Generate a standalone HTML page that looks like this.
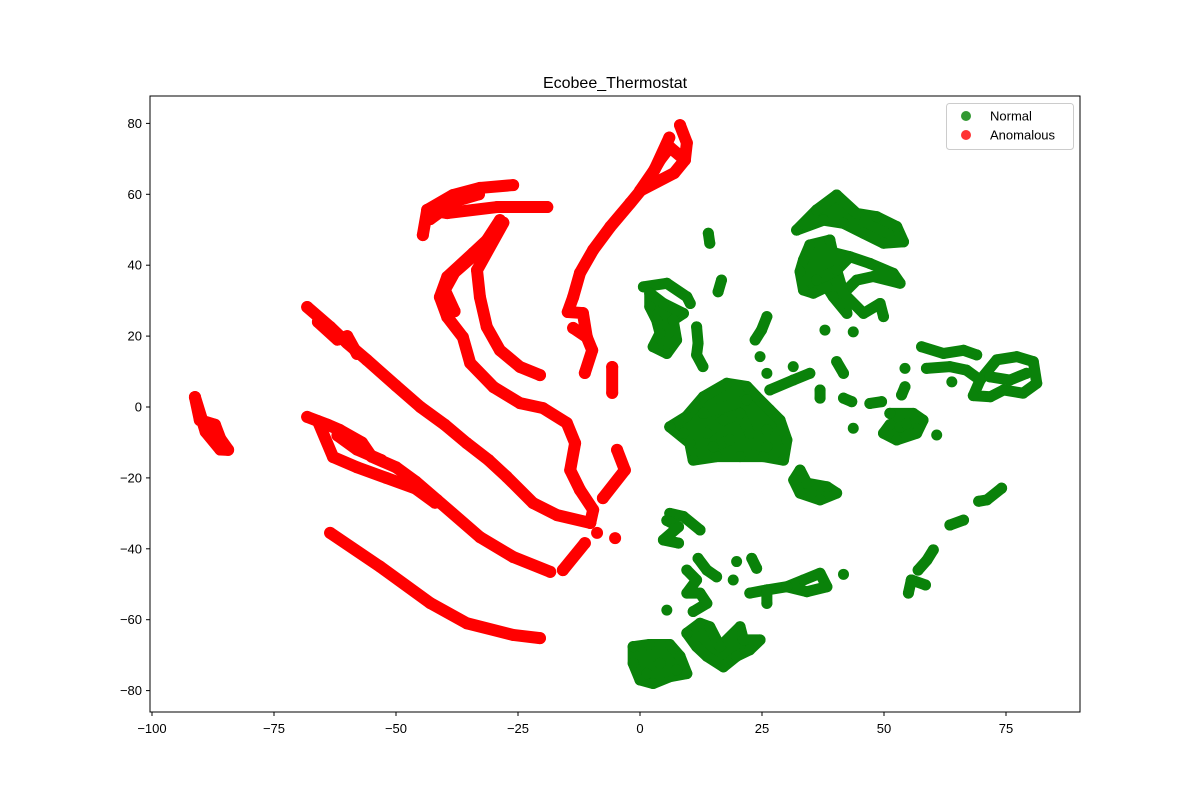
<!DOCTYPE html>
<html><head><meta charset="utf-8"><style>
body{margin:0;background:#fff;}
svg{display:block;font-family:"Liberation Sans","DejaVu Sans",sans-serif;}
</style></head><body>
<svg id="chart" width="1200" height="800" viewBox="0 0 1200 800">
<rect x="0" y="0" width="1200" height="800" fill="#fff"/>
<text x="615" y="88" text-anchor="middle" font-size="16">Ecobee_Thermostat</text>
<g id="marks"></g>
<rect x="150" y="96" width="930" height="616" fill="none" stroke="#000" stroke-width="1"/>
<g id="axes"></g>
<g>
<rect x="946.5" y="103.5" width="127" height="46" rx="3" fill="#fff" fill-opacity="0.8" stroke="#ccc"/>
<circle cx="966" cy="116" r="5" fill="green" fill-opacity="0.8"/>
<text x="990" y="120.5" font-size="13">Normal</text>
<circle cx="966" cy="135" r="5" fill="red" fill-opacity="0.8"/>
<text x="990" y="139.5" font-size="13">Anomalous</text>
</g>
</svg>
<script>
const xTicks = [-100,-75,-50,-25,0,25,50,75];
const yTicks = [-80,-60,-40,-20,0,20,40,60,80];
// Anomalous clusters (x, y pairs, ordered along each curve)
const anomalous = [
 [[-91.2,2.8],[-90.2,-3.7],[-87.1,-5],[-86,-9],[-84.4,-12.1],[-86,-12],[-89,-7],[-91.2,2.8]],
 [[-68.2,28.2],[-63.5,22.6],[-60,18],[-56,13.3],[-50,6],[-45,0],[-40,-5],[-35.5,-10.2],[-31,-15],[-27.3,-19.7],[-21.9,-27.1],[-17,-30.5],[-10.2,-32.7]],
 [[-66,24],[-62,19],[-60,20],[-58,15]],
 [[-44.5,48.5],[-43.6,55.6],[-38.3,59.8],[-32.8,61.8],[-26,62.6]],
 [[-43.6,55.6],[-39.5,54.7],[-29.3,56.4],[-19,56.4]],
 [[-43,53],[-38,58],[-33,60]],
 [[-28.7,52.7],[-31.4,47],[-34.2,43.4],[-39.5,36.7],[-41,31],[-39.5,25.4],[-36.3,19.7],[-34.8,12.4],[-30,5.6],[-24.6,1.1],[-19.9,-0.3],[-15,-4.5],[-13.3,-10.2],[-14.3,-17.8],[-12.3,-23.4],[-9.6,-29],[-10.2,-32.7]],
 [[-30,49],[-33,44],[-38,38],[-40,33],[-38,27]],
 [[-28,52],[-33.4,38.6],[-32.8,31],[-31.4,22.6],[-28.7,16],[-24.6,11.3],[-20.5,9]],
 [[8.2,79.5],[9.6,74.5],[9.2,69.7],[6.1,73.3],[4.1,69.7],[1.4,63.2],[-2,57.5],[-6.1,50.8],[-9.6,44.3],[-12.3,37.8],[-13.7,31],[-14.8,26.8],[-11.7,26.5],[-10.9,19.7],[-9.8,16],[-11.3,9.6]],
 [[6,76],[3,67],[0,61],[7,66],[9.2,69.7]],
 [[-13.7,22.3],[-10.9,19.7]],
 [[-5.7,11.3],[-5.7,4]],
 [[-68.2,-2.8],[-64,-5],[-61.5,-6.5],[-57,-10],[-55,-14],[-50,-17],[-46,-21],[-41.6,-26.2],[-32.8,-36.7],[-26,-42.3],[-18.4,-46.5]],
 [[-66,-4],[-62.9,-14.1],[-58,-17],[-52,-20],[-46,-23],[-42,-27]],
 [[-62,-8],[-58,-12],[-53,-15]],
 [[-15.8,-46],[-11.3,-38.4]],
 [[-8.8,-35.5]],
 [[-5.1,-37]],
 [[-4.7,-12.1],[-3.1,-17.8],[-7.6,-25.7]],
 [[-63.5,-35.5],[-53.3,-45],[-43,-55.3],[-35.5,-61],[-26,-64.3],[-20.5,-65.2]]
];
// Normal clusters
const normal = [
 [[32.1,49.9],[36.2,55.6],[40.3,59.8],[44.4,54.6],[48.5,53.7],[52.6,50.9],[54,46.6],[49.9,46.2],[45.8,49],[41.7,51.8],[37.6,52.7],[32.1,49.9]],
 [[34.8,45.7],[38.9,43.8],[43,42.4],[47.1,40.5],[51.9,37.7],[53.3,34.9],[47.8,36.8],[44.4,35.8],[41.7,32.1],[45.8,26.4],[49.2,29.2],[49.9,25.5]],
 [[38.9,47.1],[34.8,45.7],[33.5,41.5],[32.8,38.2],[33.5,33],[35.5,32.1],[38.3,33.9],[39.6,31.1],[42.4,26.4],[41.7,32.1],[40.3,38.6],[38.9,47.1]],
 [[36.2,35.8],[40.3,38.6],[43,42.4]],
 [[37.9,21.7]],[[43.7,21.2]],
 [[0.7,33.9],[5.5,34.9],[9.6,31.1],[10.3,29.2]],
 [[2,32.1],[2,28.3],[3.4,24.5],[4.1,20.8],[2.7,17],[5.5,15.1],[7.5,18.9],[6.8,24.5],[8.9,26.4],[4.8,29.2],[2,32.1]],
 [[11.6,22.6],[11.9,18],[11.6,14.7],[12.9,11.4]],
 [[14,49],[14.3,46.2]],
 [[16.7,35.8],[16,32.5]],
 [[26,25.5],[24.9,21.7],[23.6,18.9]],
 [[24.6,14.2]],
 [[6.1,-5.6],[9.5,-2.7],[13,2.9],[17.8,6.7],[21.9,5.8],[23.9,2.9],[26.6,-0.8],[28.7,-3.7],[30.1,-9.3],[29.4,-15],[25.3,-14],[20.5,-14],[15.7,-14],[10.9,-15],[10.2,-10.2],[6.1,-5.6]],
 [[8.9,-7.4],[13.7,-7.4],[17.1,-3.7],[20.5,-1.8],[22.5,-7.4],[26,-6.5],[26,-11.2],[18.4,-9.3],[15,-11.2]],
 [[13,-1.8],[21.9,2]],
 [[26.6,4.8],[31.4,7.6],[34.8,9.5]],
 [[31.4,11.4]],[[26,9.5]],
 [[36.9,4.8],[36.9,2.5]],
 [[40.3,12.8],[41.7,9.5]],
 [[41.7,2.5],[43.4,1.5]],
 [[43.7,-6]],
 [[47.1,1],[49.5,1.5]],
 [[54.3,10.9]],
 [[54.3,5.7],[53.6,3.4]],
 [[51.2,-1.8],[56,-1.8],[58,-3.7],[56.7,-7.4],[52.6,-9.3],[49.9,-7.4],[51.2,-5],[53.3,-5.6],[54.6,-4.7],[51.2,-1.8]],
 [[60.8,-7.9]],
 [[57.7,17],[62.2,15.1],[66.3,16],[69,14.7]],
 [[58.7,10.9],[63.5,11.4],[66.9,10.4],[69.7,7.6],[73.1,13.3],[77.2,14.2],[80.6,12.8],[81.3,6.7],[78.5,3.9],[74.5,4.8],[71.8,2.9],[68.3,3.2],[69.7,7.6]],
 [[71.7,8.5],[75.8,7.6],[79.2,9.5]],
 [[63.9,7.1]],
 [[32.8,-17.8],[34.2,-21.5],[38.3,-22.5],[40.3,-24.3],[36.9,-26.2],[32.8,-24.3],[31.5,-20.6],[32.8,-17.8]],
 [[6.1,-30],[8.9,-30.9],[12.3,-34.7]],
 [[5.5,-32],[7.9,-33.8],[4.8,-37.5],[7.9,-38.4]],
 [[5.5,-57.3]],
 [[11.9,-42.7],[13.7,-46],[15.7,-47.9]],
 [[9.6,-46],[11.6,-48.8],[9.6,-52.5],[12.3,-52.5],[13.7,-55.4],[10.9,-57.7]],
 [[19.8,-43.6]],[[22.9,-42.7],[23.9,-45.5]],[[19.1,-48.8]],
 [[22.5,-52.5],[26,-51.6],[30.1,-50.7],[33.5,-48.8],[36.9,-46.9],[38.3,-50.7],[34.2,-52.1],[30.1,-50.7]],
 [[26,-55.4],[26,-51.6]],
 [[41.7,-47.2]],
 [[74.1,-22.9],[71.1,-26.2],[69.4,-26.6]],
 [[66.3,-31.9],[63.5,-33.3]],
 [[60.1,-40.3],[58.8,-43.2],[57,-46]],
 [[55.6,-48.8],[58.5,-50.2]],
 [[55.6,-48.8],[55,-52.5]],
 [[-1.4,-67.6],[1.9,-67],[6.1,-67],[8.2,-70.3],[9.6,-75.2],[6.1,-76.1],[2.7,-78],[0,-77],[-1.4,-72.3],[-1.4,-67.6]],
 [[4.1,-72.3],[1.4,-75.2],[7.5,-74.2]],
 [[9.6,-63.8],[12.3,-61],[14.3,-62],[16.4,-67.6],[20.5,-62],[21.2,-65.7],[24.6,-65.7],[22.5,-68.5],[19.8,-70.3],[17.1,-73.3],[13.7,-70.3],[11.6,-67.6],[9.6,-63.8]]
];
const NS='http://www.w3.org/2000/svg';
const X0=640, KX=4.88, Y0=407, KY=3.545;
function sx(v){return X0+v*KX;}
function sy(v){return Y0-v*KY;}
const marks=document.getElementById('marks');
const axes=document.getElementById('axes');
function drawSeries(clusters,color,name,sw){
  const g=document.createElementNS(NS,'g');
  
  
  marks.appendChild(g);
  clusters.forEach((c)=>{
    if(c.length>1){
      const first=c[0], last=c[c.length-1];
      const closed=c.length>3 && first[0]===last[0] && first[1]===last[1];
      const p=document.createElementNS(NS,closed?'polygon':'polyline');
      p.setAttribute('points',c.map(q=>sx(q[0])+','+sy(q[1])).join(' '));
      p.setAttribute('fill',closed?color:'none');p.setAttribute('stroke',color);
      p.setAttribute('stroke-width',sw);p.setAttribute('stroke-linecap','round');p.setAttribute('stroke-linejoin','round');
      
      
      g.appendChild(p);
    }
    c.forEach(q=>{
      const ci=document.createElementNS(NS,'circle');
      ci.setAttribute('cx',sx(q[0]));ci.setAttribute('cy',sy(q[1]));ci.setAttribute('r',sw/2);
      ci.setAttribute('fill',color);
      
      
      g.appendChild(ci);
    });
  });
}
drawSeries(normal,'#0a820a','normal',11);
drawSeries(anomalous,'#ff0000','anomalous',12);
xTicks.forEach(t=>{
  const x=sx(t);
  const l=document.createElementNS(NS,'line');
  l.setAttribute('x1',x);l.setAttribute('x2',x);l.setAttribute('y1',712);l.setAttribute('y2',716);l.setAttribute('stroke','#000');
  
  
  axes.appendChild(l);
  const tx=document.createElementNS(NS,'text');
  tx.setAttribute('x',x);tx.setAttribute('y',733);tx.setAttribute('text-anchor','middle');tx.setAttribute('font-size','13');
  tx.textContent=t<0?'\u2212'+Math.abs(t):String(t);
  
  
  axes.appendChild(tx);
});
yTicks.forEach(t=>{
  const y=sy(t);
  const l=document.createElementNS(NS,'line');
  l.setAttribute('x1',146);l.setAttribute('x2',150);l.setAttribute('y1',y);l.setAttribute('y2',y);l.setAttribute('stroke','#000');
  
  
  axes.appendChild(l);
  const tx=document.createElementNS(NS,'text');
  tx.setAttribute('x',142);tx.setAttribute('y',y+4.5);tx.setAttribute('text-anchor','end');tx.setAttribute('font-size','13');
  tx.textContent=t<0?'\u2212'+Math.abs(t):String(t);
  
  
  axes.appendChild(tx);
});
</script>
</body></html>
